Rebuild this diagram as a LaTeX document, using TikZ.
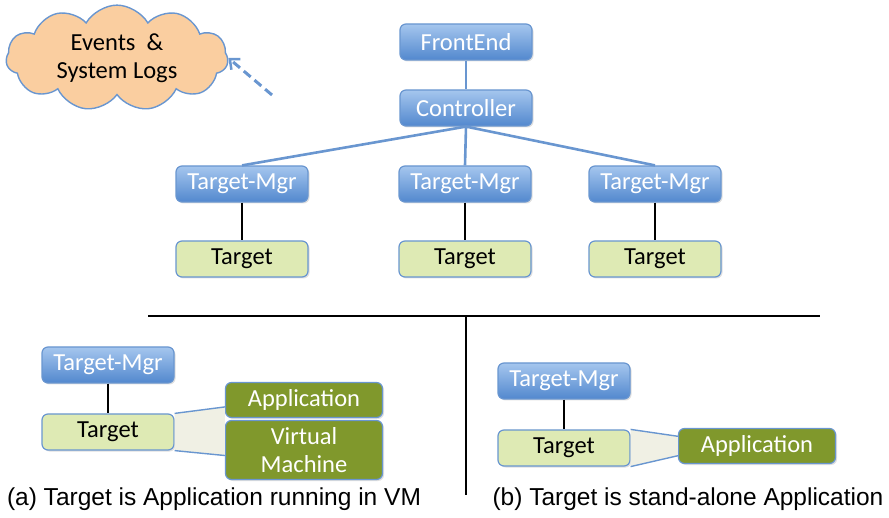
\documentclass[tikz,border=0pt]{standalone}
\usepackage{fontspec}
\setmainfont{Carlito}
\newfontfamily\capfont{Liberation Sans}
\usepackage{tikz}
\usetikzlibrary{positioning,arrows.meta,shapes.symbols,shadows}
\definecolor{mgrtop}{RGB}{165,198,238}
\definecolor{mgrbot}{RGB}{82,136,206}
\definecolor{edgeblue}{RGB}{105,150,208}
\definecolor{tgtgreen}{RGB}{222,234,180}
\definecolor{olive}{RGB}{128,152,44}
\definecolor{peach}{RGB}{250,206,160}
\definecolor{joingray}{RGB}{240,240,228}

\begin{document}
\begin{tikzpicture}[
    x=1pt, y=-1pt,
    font=\fontsize{24.5}{28}\selectfont,
    mgrbox/.style={rectangle, draw=edgeblue, line width=1.2pt, rounded corners=6pt,
      top color=mgrtop, bottom color=mgrbot, text=white,
      minimum width=132pt, minimum height=36pt, inner sep=2pt,
      drop shadow={opacity=.25, shadow xshift=1.5pt, shadow yshift=-1.5pt}},
    tgtbox/.style={rectangle, draw=edgeblue, line width=1.2pt, rounded corners=6pt,
      fill=tgtgreen, minimum width=132pt, minimum height=36pt, inner sep=2pt,
      drop shadow={opacity=.25, shadow xshift=1.5pt, shadow yshift=-1.5pt}},
    appbox/.style={rectangle, draw=edgeblue, line width=1.2pt, rounded corners=6pt,
      fill=olive, text=white, minimum width=157pt, minimum height=35pt,
      inner sep=2pt, align=center,
      drop shadow={opacity=.25, shadow xshift=1.5pt, shadow yshift=-1.5pt}},
    bluelink/.style={draw=edgeblue, line width=2.6pt},
    blacklink/.style={draw=black, line width=2.6pt},
    joinline/.style={draw=edgeblue, line width=1.4pt},
    caption/.style={font=\capfont\fontsize{24.5}{28}\selectfont},
    >={Straight Barb[length=8pt, width=14pt, line width=2.5pt]}
  ]
    \useasboundingbox (0,0) rectangle (889,518);

    % cloud of logs
    \node[cloud, cloud puffs=11, cloud puff arc=120, aspect=2.1,
      draw=edgeblue, line width=1.4pt, fill=peach, minimum width=222pt,
      minimum height=104pt, align=center, inner sep=0pt] (logs) at (117,58)
      {Events~~\&\\System Logs};
    \coordinate (logsrc) at (272,95);
    \draw[edgeblue, line width=3pt, dash pattern=on 9pt off 5pt, ->] (logsrc) -- (logs.east);

    % top tree
    \node[mgrbox] (front) at (466,42) {FrontEnd};
    \node[mgrbox] (ctrl) at (466,108) {Controller};
    \node[mgrbox] (mgrL) at (242,184) {Target-Mgr};
    \node[mgrbox] (mgrM) at (465,184) {Target-Mgr};
    \node[mgrbox] (mgrR) at (655,184) {Target-Mgr};
    \node[tgtbox] (tgtL) at (242,259) {Target};
    \node[tgtbox] (tgtM) at (465,259) {Target};
    \node[tgtbox] (tgtR) at (655,259) {Target};

    \draw[bluelink] (front) -- (ctrl);
    \draw[bluelink] (ctrl.south) -- (mgrL.north);
    \draw[bluelink] (ctrl.south) -- (mgrM.north);
    \draw[bluelink] (ctrl.south) -- (mgrR.north);
    \draw[blacklink] (mgrL) -- (tgtL);
    \draw[blacklink] (mgrM) -- (tgtM);
    \draw[blacklink] (mgrR) -- (tgtR);

    % separators
    \draw[line width=2.6pt] (148,316) -- (820,316);
    \draw[line width=2.6pt] (466,316) -- (466,495);

    % (a) application in VM
    \node[mgrbox] (mgrA) at (108,365) {Target-Mgr};
    \node[tgtbox] (tgtA) at (108,432) {Target};
    \node[appbox] (appA) at (304,400) {Application};
    \node[appbox, minimum height=59pt] (vmA) at (304,450) {Virtual\\Machine};
    \draw[blacklink] (mgrA) -- (tgtA);
    \fill[joingray] (tgtA.north east) -- (appA.185) -- (vmA.184) -- (tgtA.south east) -- cycle;
    \draw[joinline] (tgtA.north east) -- (appA.185);
    \draw[joinline] (tgtA.south east) -- (vmA.184);
    \node[caption] (capA) at (214,499) {(a) Target is Application running in VM};

    % (b) stand-alone application
    \node[mgrbox] (mgrB) at (564,381) {Target-Mgr};
    \node[tgtbox] (tgtB) at (564,448) {Target};
    \node[appbox] (appB) at (757,446) {Application};
    \draw[blacklink] (mgrB) -- (tgtB);
    \fill[joingray] (tgtB.north east) -- (appB.173) -- (appB.187) -- (tgtB.south east) -- cycle;
    \draw[joinline] (tgtB.north east) -- (appB.173);
    \draw[joinline] (tgtB.south east) -- (appB.187);
    \node[caption] (capB) at (688,499) {(b) Target is stand-alone Application};
  \end{tikzpicture}
\end{document}
